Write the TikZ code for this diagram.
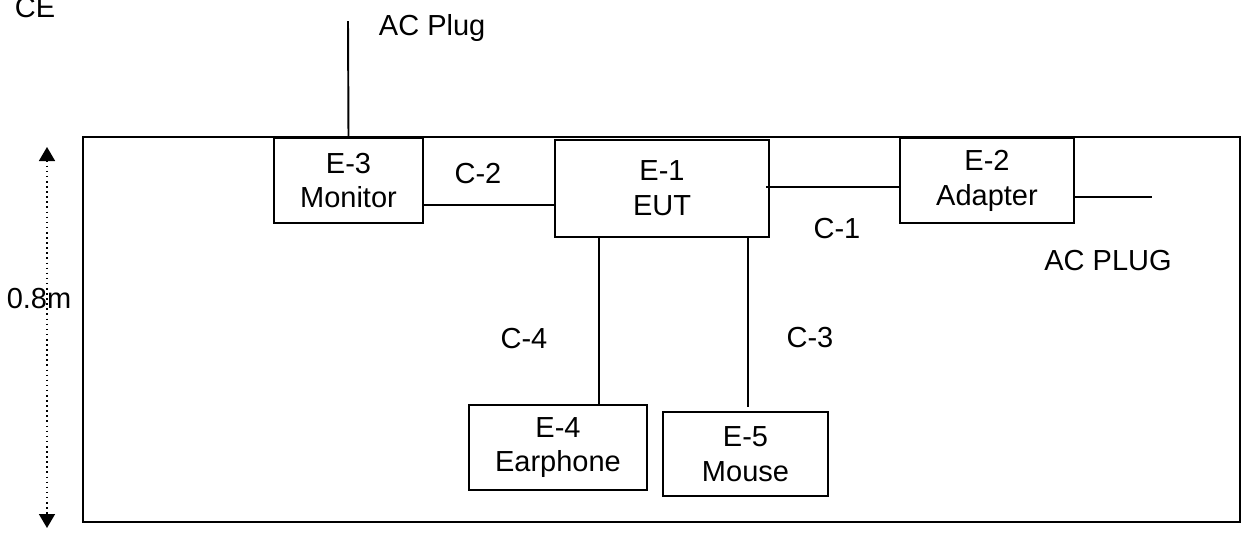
\documentclass[tikz,border=0pt]{standalone}
\usepackage{fontspec}
\setmainfont{Liberation Sans}
\usetikzlibrary{arrows.meta}

\begin{document}
\begin{tikzpicture}[x=0.02cm,y=-0.02cm,line width=1.1pt,font=\fontsize{16.5}{19.8}\selectfont]
  \tikzstyle{B}=[draw,rectangle,inner sep=0pt,align=center]
  \tikzstyle{T}=[inner sep=0pt,anchor=base]
  \useasboundingbox (0,0) rectangle (1242,532);
  \node[draw,line width=1.3pt,minimum width=23.14cm,minimum height=7.70cm,inner sep=0pt] (table) at (661.5,329.5) {};
  \node[B,minimum width=2.98cm,minimum height=1.70cm,fill=white] (E3) at (348.5,180.5) {E-3\\Monitor};
  \node[B,minimum width=4.28cm,minimum height=1.94cm] (E1) at (662,188.5) {E-1\\EUT};
  \node[B,minimum width=3.48cm,minimum height=1.70cm,fill=white] (E2) at (987,180.5) {E-2\\Adapter};
  \node[B,minimum width=3.56cm,minimum height=1.70cm] (E4) at (558,447.5) {E-4\\Earphone\rule[-1pt]{0pt}{0pt}};
  \node[B,minimum width=3.30cm,minimum height=1.68cm] (E5) at (745.5,454) {E-5\\Mouse};

  \coordinate (plugA) at (348,21);
  \coordinate (plugB) at (1152,197);
  \coordinate (c3end) at (748,407);
  \coordinate (htop) at (47,147);
  \coordinate (hbot) at (47,528);

  \draw (plugA) -- (E3.north);
  \draw (E3.east |- 0,205) -- (E1.west |- 0,205);
  \draw ([xshift=-2]E1.east |- 0,187) -- (E2.west |- 0,187);
  \draw (E2.east |- 0,197) -- (plugB);
  \draw (E1.south -| 599,0) -- (E4.north -| 599,0);
  \draw (E1.south -| 748,0) -- (c3end);
  \draw[{Triangle[length=0.28cm,width=0.32cm]}-{Triangle[length=0.28cm,width=0.32cm]},line width=0.9pt,dotted] (htop) -- (hbot);

  \node[T] (lCE) at (35,17) {CE};
  \node[T,anchor=base west] (lplugA) at (378,35) {AC Plug};
  \node[T] (lplugB) at (1108,270) {AC PLUG};
  \node[T] (lC1) at (837,238) {C-1};
  \node[T] (lC2) at (478,183) {C-2};
  \node[T] (lC3) at (810,347) {C-3};
  \node[T] (lC4) at (524,348) {C-4};
  \node[T] (lh) at (39,308) {0.8m};
\end{tikzpicture}
\end{document}
